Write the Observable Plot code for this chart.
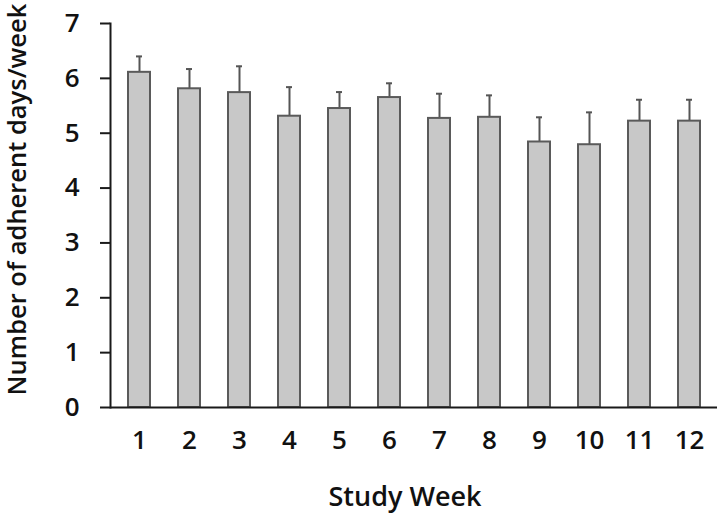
<!DOCTYPE html>
<html>
<head>
<meta charset="utf-8">
<script src="https://cdn.jsdelivr.net/npm/d3@7"></script>
<script src="https://cdn.jsdelivr.net/npm/@observablehq/plot@0.6"></script>
<style>
  html, body { margin: 0; padding: 0; background: #fff; }
  svg { display: block; }
</style>
</head>
<body>
<div id="chart"></div>
<script>
const weeks = [1, 2, 3, 4, 5, 6, 7, 8, 9, 10, 11, 12];
const means = [6.11, 5.81, 5.74, 5.31, 5.45, 5.65, 5.27, 5.29, 4.84, 4.79, 5.22, 5.22];
const upper = [6.40, 6.17, 6.22, 5.84, 5.75, 5.91, 5.72, 5.69, 5.29, 5.38, 5.61, 5.61];
const yTicks = [0, 1, 2, 3, 4, 5, 6, 7];
const xLabel = "Study Week";
const yLabel = "Number of adherent days/week";

const data = weeks.map((w, i) => ({week: w, mean: means[i], upper: upper[i]}));

const font = "'Open Sans', sans-serif";

const chart = Plot.plot({
  width: 717,
  height: 514,
  marginLeft: 110,
  marginRight: 0,
  marginTop: 23,
  marginBottom: 107,
  style: {fontFamily: font, fontSize: "26px", color: "#111", background: "#fff"},
  x: {type: "band", domain: weeks, paddingInner: 0.566, paddingOuter: 0.283},
  y: {domain: [0, 7]},
  marks: [
    Plot.ruleX(data, {x: "week", y1: "mean", y2: "upper", stroke: "#555", strokeWidth: 2}),
    Plot.tickY(data, {x: "week", y: "upper", stroke: "#555", strokeWidth: 2, insetLeft: 8, insetRight: 8}),
    Plot.barY(data, {x: "week", y: "mean", fill: "#c8c8c8", stroke: "#5a5a5a", strokeWidth: 2}),
    Plot.axisY({ticks: yTicks, tickFormat: d3.format("d"), tickSize: 10, tickPadding: 21, strokeWidth: 2,
      stroke: "#1a1a1a", fill: "#111", fontSize: 26, fontWeight: 600, label: null}),
    Plot.axisX({tickSize: 0, tickPadding: 23, fontSize: 26, fill: "#111", fontWeight: 600, label: null}),
    Plot.frame({anchor: "left", stroke: "#1a1a1a", strokeWidth: 2}),
    Plot.ruleY([0], {stroke: "#1a1a1a", strokeWidth: 2}),
    Plot.text([xLabel], {text: d => d, frameAnchor: "bottom", dx: -9, dy: 90, lineAnchor: "middle",
      textAnchor: "middle", fontSize: 27, fill: "#111", fontWeight: 600}),
    Plot.text([yLabel], {text: d => d, frameAnchor: "left", rotate: -90, dx: -93, dy: -16, lineAnchor: "middle",
      textAnchor: "middle", fontSize: 25.5, fill: "#111", fontWeight: 600})
  ]
});
document.getElementById("chart").appendChild(chart);
</script>
</body>
</html>
